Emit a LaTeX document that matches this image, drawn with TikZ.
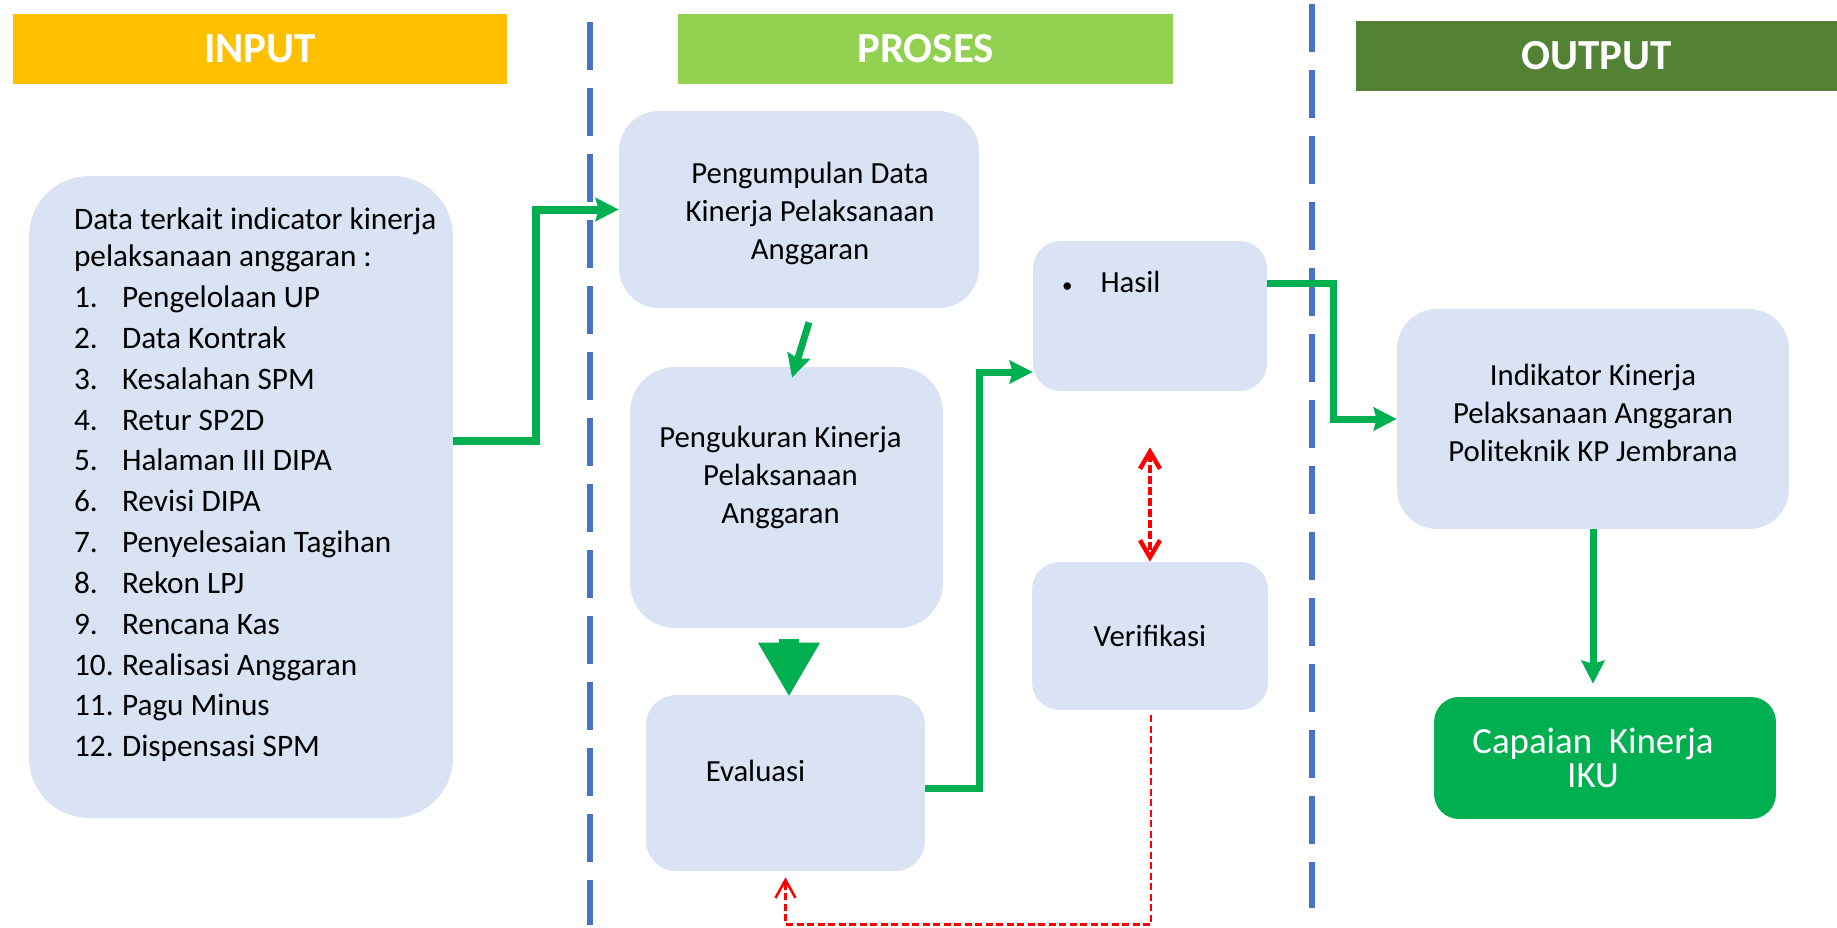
\documentclass[tikz,border=0pt]{standalone}
\usepackage{fontspec}
\setmainfont{Carlito}
\usetikzlibrary{arrows.meta,calc,positioning}

\definecolor{inputbar}{HTML}{FFC000}
\definecolor{prosesbar}{HTML}{92D050}
\definecolor{outputbar}{HTML}{548235}
\definecolor{boxblue}{HTML}{DAE3F3}
\definecolor{flowgreen}{HTML}{00B050}
\definecolor{sepblue}{HTML}{4472C4}
\definecolor{checkred}{HTML}{FF0000}

\newcommand{\nomor}[1]{\makebox[0.96cm][l]{#1}}

\tikzset{
  headbar/.style={inner sep=0pt, minimum height=1.4cm, text=white,
    font=\fontsize{24.4}{28}\selectfont\bfseries},
  bodytext/.style={inner sep=0pt, font=\fontsize{17.5}{21.5}\selectfont},
  procbox/.style={fill=boxblue, rounded corners=#1, inner sep=0pt,
    font=\fontsize{17.5}{21.5}\selectfont},
  procbox/.default=0.6cm,
  iku/.style={fill=flowgreen, rounded corners=0.5cm, inner sep=0pt},
  sepline/.style={sepblue, line width=0.11cm, dash pattern=on 0.96cm off 0.36cm},
  greenflow/.style={flowgreen, line width=0.14cm,
    -{Stealth[length=0.46cm, width=0.46cm, inset=0.06cm]}},
  fatflow/.style={flowgreen, line width=0.4cm,
    -{Triangle[length=1.08cm, width=1.16cm]}},
  redcheck/.style={checkred, line width=0.09cm, dash pattern=on 0.16cm off 0.06cm,
    {Straight Barb[length=0.34cm, width=0.4cm]}-{Straight Barb[length=0.34cm, width=0.4cm]}},
  redloop/.style={checkred, line width=0.05cm, dash pattern=on 0.14cm off 0.07cm,
    -{Straight Barb[length=0.36cm, width=0.4cm]}}
}

\begin{document}
\begin{tikzpicture}[x=0.02cm, y=-0.02cm]
\useasboundingbox (0,0) rectangle (1837,927);

% judul kolom
\node[headbar, fill=inputbar, minimum width=9.88cm] (hinput) at (260,49) {INPUT};
\node[headbar, fill=prosesbar, minimum width=9.9cm] (hproses) at (925.5,49) {PROSES};
\node[headbar, fill=outputbar, minimum width=9.62cm] (houtput) at (1596.5,56) {OUTPUT};

% garis pemisah
\draw[sepline] (590,22) -- (590,925);
\draw[sepline] (1312,4) -- (1312,908);

% input
\node[procbox=1.2cm, minimum width=8.48cm, minimum height=12.84cm] (inbox) at (241,497) {};
\node[bodytext, anchor=north west, align=left, font=\fontsize{17.8}{23.25}\selectfont]
  (inlist) at ($(inbox.north west)+(45,32)$) {Data terkait indicator kinerja\\[-2.27pt]
  pelaksanaan anggaran :\\
  \nomor{1.}Pengelolaan UP\\
  \nomor{2.}Data Kontrak\\
  \nomor{3.}Kesalahan SPM\\
  \nomor{4.}Retur SP2D\\
  \nomor{5.}Halaman III DIPA\\
  \nomor{6.}Revisi DIPA\\
  \nomor{7.}Penyelesaian Tagihan\\
  \nomor{8.}Rekon LPJ\\
  \nomor{9.}Rencana Kas\\
  \nomor{10.}Realisasi Anggaran\\
  \nomor{11.}Pagu Minus\\
  \nomor{12.}Dispensasi SPM};

% proses
\node[procbox=0.8cm, minimum width=7.2cm, minimum height=3.94cm] (kumpul) at (799,209.5) {};
\node[bodytext, align=center] (kumpultxt) at ($(kumpul)+(11,4)$)
  {Pengumpulan Data\\Kinerja Pelaksanaan\\Anggaran};

\node[procbox=0.9cm, minimum width=6.26cm, minimum height=5.22cm] (ukur) at (786.5,497.5) {};
\node[bodytext, align=center] (ukurtxt) at ($(ukur)+(-6,-20)$)
  {Pengukuran Kinerja\\Pelaksanaan\\Anggaran};

\node[procbox=0.6cm, minimum width=5.58cm, minimum height=3.52cm] (eval) at (785.5,783) {};
\node[bodytext] (evaltxt) at ($(eval)+(-30,-12)$) {Evaluasi};

\node[procbox=0.55cm, minimum width=4.68cm, minimum height=3cm] (hasil) at (1150,316) {};
\node[bodytext, anchor=west] (hasiltxt) at ($(hasil.west)+(29,-34)$)
  {{\fontsize{12}{12}\selectfont\textbullet}\hspace{0.56cm}Hasil};

\node[procbox=0.55cm, minimum width=4.72cm, minimum height=2.96cm] (verif) at (1150,636) {Verifikasi};

% output
\node[procbox=0.8cm, minimum width=7.84cm, minimum height=4.4cm] (indik) at (1593,419) {};
\node[bodytext, align=center] (indiktxt) at ($(indik)+(0,-6)$)
  {Indikator Kinerja\\Pelaksanaan Anggaran\\Politeknik KP Jembrana};
\node[iku, minimum width=6.84cm, minimum height=2.44cm] (capai) at (1605,758) {};
\node[inner sep=0pt, text=white, align=center, font=\fontsize{21}{19}\selectfont]
  (capaitxt) at ($(capai)+(-12,0)$) {Capaian\ \ Kinerja\\IKU};

% alur
\draw[greenflow, line width=0.16cm] ($(inbox.east)+(0,-56)$) -- ++(83,0) |- (kumpul.west);
\draw[greenflow] ($(kumpul.south)+(10,14)$) -- ($(ukur.north)+(5.5,11)$);
\draw[fatflow] ($(ukur.south)+(2.5,11)$) -- ($(eval.north)+(3.5,2)$);
\draw[greenflow] ($(eval.east)+(0,5)$) -- ++(54,0) |- ($(hasil.west)+(0,56)$);
\draw[greenflow] ($(hasil.east)+(0,-33)$) -- ++(66,0) |- (indik.west);
\draw[greenflow, shorten >=0.26cm] (indik.south) -- (indik.south |- capai.north);
\draw[redcheck] ($(hasil.south)+(0,56)$) -- (verif.north);
\draw[redloop] ($(verif.south)+(1,5)$) -- ($(verif.south)+(1,214)$) -| ($(eval.south)+(0,6)$);
\end{tikzpicture}
\end{document}
